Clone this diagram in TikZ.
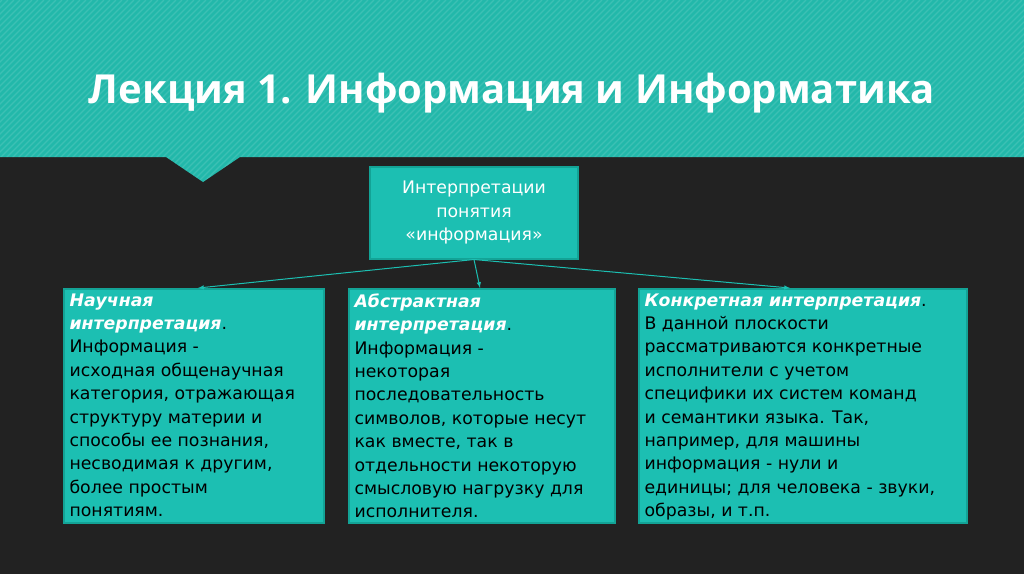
\documentclass[tikz,border=0pt]{standalone}
\usepackage{fontspec}
\setmainfont{Open Sans}
\newfontfamily\bodyfont{DejaVu Sans}
\usetikzlibrary{patterns}
\definecolor{bg}{HTML}{222222}
\definecolor{teal1}{HTML}{1CBFB2}
\definecolor{tealb}{HTML}{13A396}
\definecolor{band}{HTML}{22B8AA}
\tikzset{
 card/.style={draw=tealb,line width=1.5pt,fill=teal1,anchor=north west,inner sep=0pt},
 body/.style={anchor=north west,align=left,text=black,font=\bodyfont\fontsize{17.3}{23.4}\selectfont},
 conn/.style={draw=teal1,line width=1pt,-latex}
}
\newcommand{\hd}[1]{\textcolor{white}{\textbf{\textit{#1}}}}
\begin{document}
\begin{tikzpicture}[x=1pt,y=-1pt]
\useasboundingbox (0,0) rectangle (1024,574);
\fill[bg] (0,0) rectangle (1024,574);
\fill[band] (0,0) -- (1024,0) -- (1024,157) -- (240,157) -- (203,182) -- (166,157) -- (0,157) -- cycle;
\begin{scope}
\clip (0,0) -- (1024,0) -- (1024,157) -- (240,157) -- (203,182) -- (166,157) -- (0,157) -- cycle;
\foreach \i in {-200,-194,...,1030}{\draw[white,opacity=0.12,line width=1.2pt] (\i,190) -- (\i+190,0);}
\end{scope}
\node (title) [text=white,font=\bfseries\fontsize{40}{44}\selectfont] at (512,93) {Лекция 1. Информация и Информатика};
\node (top) [card,minimum width=208pt,minimum height=92pt,anchor=north] at (474,166) {};
\node[align=center,text=white,font=\bodyfont\fontsize{17.3}{23.4}\selectfont] at (top.center) {Интерпретации\\понятия\\«информация»};
\node (a) [card,minimum width=260pt,minimum height=234pt] at (63,288) {};
\node (b) [card,minimum width=266pt,minimum height=234pt] at (348,288) {};
\node (c) [card,minimum width=328pt,minimum height=234pt] at (638,288) {};
\node[body] at (66,290) {\hd{Научная}\\\hd{интерпретация}.\\Информация -\\исходная общенаучная\\категория, отражающая\\структуру материи и\\способы ее познания,\\несводимая к другим,\\более простым\\понятиям.};
\node[body] at (351,290) {\hd{Абстрактная}\\\hd{интерпретация}.\\Информация -\\некоторая\\последовательность\\символов, которые несут\\как вместе, так в\\отдельности некоторую\\смысловую нагрузку для\\исполнителя.};
\node[body] at (641,290) {\hd{Конкретная интерпретация}.\\В данной плоскости\\рассматриваются конкретные\\исполнители с учетом\\специфики их систем команд\\и семантики языка. Так,\\например, для машины\\информация - нули и\\единицы; для человека - звуки,\\образы, и т.п.};
\coordinate (ta) at (198,288);
\coordinate (tc) at (790,288);
\draw[conn] (top.south) -- (ta);
\draw[conn] (top.south) -- (b.north -| 480,0);
\draw[conn] (top.south) -- (tc);
\end{tikzpicture}
\end{document}
